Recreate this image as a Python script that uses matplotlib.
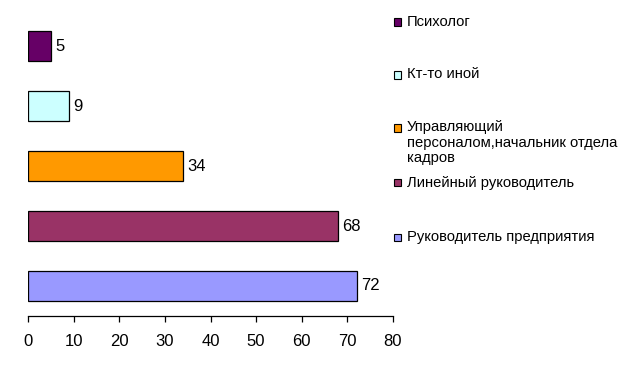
import matplotlib.pyplot as plt
from matplotlib.patches import Rectangle

plt.rcParams['font.family'] = ['Liberation Sans', 'DejaVu Sans']

# снизу вверх, как на графике
categories = ['Руководитель предприятия', 'Линейный руководитель',
              'Управляющий\nперсоналом,начальник отдела\nкадров',
              'Кт-то иной', 'Психолог']
values = [72, 68, 34, 9, 5]
colors = ['#9999FF', '#993366', '#FF9900', '#CCFFFF', '#660066']
x_ticks = [0, 10, 20, 30, 40, 50, 60, 70, 80]

fig = plt.figure(figsize=(6.23, 3.68), dpi=100)
ax = fig.add_axes([28 / 623, 1 - 316 / 368, 365 / 623, 300 / 368])

pos = range(len(values))
bars = ax.barh(pos, values, height=0.5, color=colors, edgecolor='black', linewidth=0.9)
ax.bar_label(bars, padding=3, fontsize=12)

ax.set_xlim(0, 80)
ax.set_ylim(-0.5, len(values) - 0.5)
ax.set_xticks(x_ticks)
ax.set_yticks([])
ax.tick_params(axis='x', direction='out', length=4, width=0.9, pad=9, labelsize=12)
for side in ['top', 'right', 'left']:
    ax.spines[side].set_visible(False)
ax.spines['bottom'].set_linewidth(0.9)

# легенда вручную: маркер выровнен по первой строке
legend_y = [237, 183, 128, 75, 22]  # пиксели сверху
for lab, col, yy in zip(categories, colors, legend_y):
    yf = 1 - yy / 368
    fig.patches.append(Rectangle((394 / 623, yf - 3.5 / 368), 7 / 623, 7 / 368,
                                 transform=fig.transFigure, facecolor=col,
                                 edgecolor='black', linewidth=0.8))
    fig.text(407 / 623, yf + 7.5 / 368, lab, fontsize=10.6, va='top', ha='left',
             linespacing=1.12)

fig.savefig('out.png', dpi=100)
